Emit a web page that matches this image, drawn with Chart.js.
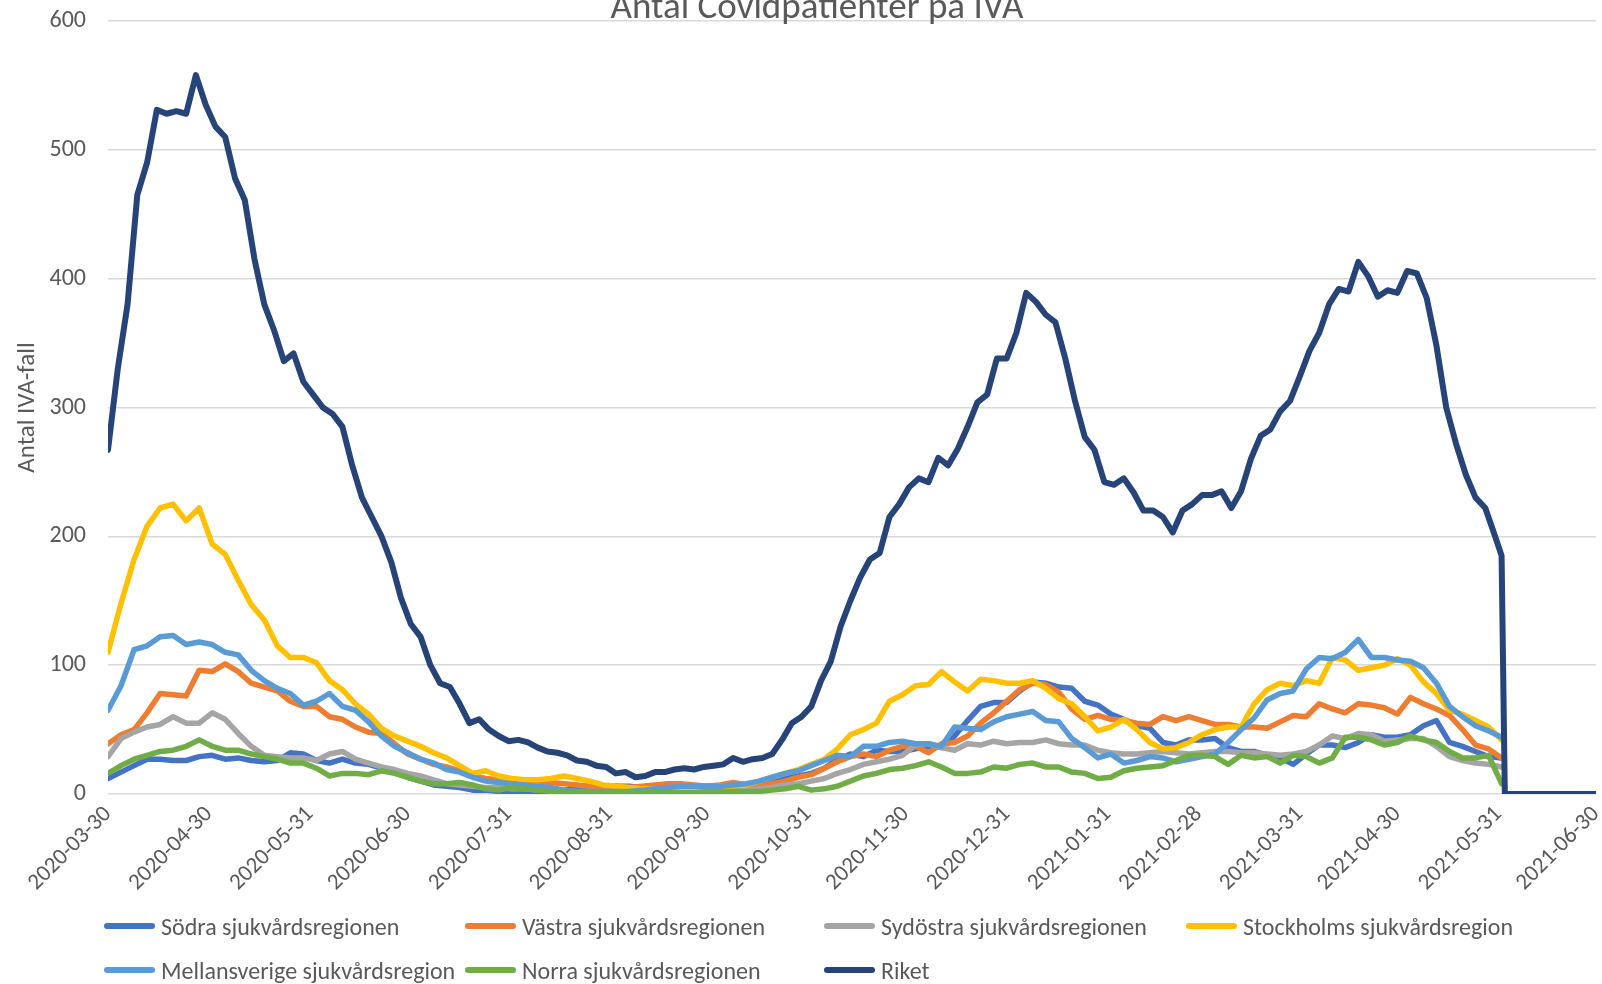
<!DOCTYPE html>
<html>
<head>
<meta charset="utf-8">
<script src="https://cdn.jsdelivr.net/npm/chart.js@4.4.1/dist/chart.umd.min.js"></script>
<style>
  html, body { margin: 0; padding: 0; background: #fff; overflow: hidden; }
  #wrap { position: relative; width: 1602px; height: 984px; font-family: Carlito, Lato, sans-serif; color: #595959; }
  #chart { position: absolute; left: 0; top: 0; }
  #title { position: absolute; top: -13px; left: 567px; width: 500px; text-align: center; font-size: 37px; line-height: 37px; white-space: nowrap; }
  .leg { position: absolute; height: 28px; display: flex; align-items: center; font-size: 24px; white-space: nowrap; }
  .leg span.swatch { display: inline-block; width: 51px; height: 6px; border-radius: 3px; margin-right: 6px; }
</style>
</head>
<body>
<div id="wrap">
  <canvas id="chart" width="1602" height="984"></canvas>
  <div id="title">Antal Covidpatienter på IVA</div>
  <div id="legend"></div>
</div>
<script>
// x positions are days since 2020-03-30
const tickDays = [0, 31, 62, 92, 123, 154, 184, 215, 245, 276, 307, 335, 366, 396, 427, 457];
const tickLabels = ['2020-03-30', '2020-04-30', '2020-05-31', '2020-06-30', '2020-07-31', '2020-08-31',
  '2020-09-30', '2020-10-31', '2020-11-30', '2020-12-31', '2021-01-31', '2021-02-28', '2021-03-31',
  '2021-04-30', '2021-05-31', '2021-06-30'];

const seriesNames = ['Södra sjukvårdsregionen', 'Västra sjukvårdsregionen', 'Sydöstra sjukvårdsregionen',
  'Stockholms sjukvårdsregion', 'Mellansverige sjukvårdsregion', 'Norra sjukvårdsregionen', 'Riket'];
const seriesColors = ['#4472C4', '#ED7D31', '#A5A5A5', '#FFC000', '#5B9BD5', '#70AD47', '#264478'];

// regional series, read every 4th day
const regionDays = [
  0, 4, 8, 12, 16, 20, 24, 28, 32, 36,
  40, 44, 48, 52, 56, 60, 64, 68, 72, 76,
  80, 84, 88, 92, 96, 100, 104, 108, 112, 116,
  120, 124, 128, 132, 136, 140, 144, 148, 152, 156,
  160, 164, 168, 172, 176, 180, 184, 188, 192, 196,
  200, 204, 208, 212, 216, 220, 224, 228, 232, 236,
  240, 244, 248, 252, 256, 260, 264, 268, 272, 276,
  280, 284, 288, 292, 296, 300, 304, 308, 312, 316,
  320, 324, 328, 332, 336, 340, 344, 348, 352, 356,
  360, 364, 368, 372, 376, 380, 384, 388, 392, 396,
  400, 404, 408, 412, 416, 420, 424, 428
];

const sodra = [
  12, 17, 22, 27, 27, 26, 26, 29, 30, 27,
  28, 26, 25, 26, 32, 31, 26, 24, 27, 24,
  23, 20, 17, 13, 10, 7, 6, 5, 3, 3,
  2, 2, 2, 2, 2, 3, 4, 5, 5, 6,
  6, 5, 5, 5, 5, 5, 6, 6, 6, 6,
  7, 9, 12, 14, 16, 20, 27, 31, 29, 34,
  33, 33, 35, 37, 36, 45, 57, 68, 71, 71,
  80, 87, 86, 83, 82, 72, 69, 62, 58, 53,
  51, 40, 38, 42, 42, 43, 36, 33, 33, 30,
  28, 23, 31, 38, 38, 36, 40, 46, 44, 44,
  46, 53, 57, 40, 37, 33, 29, 28
];

const vastra = [
  39, 46, 50, 63, 78, 77, 76, 96, 95, 101,
  95, 86, 83, 80, 72, 68, 68, 60, 58, 52,
  48, 47, 39, 31, 27, 23, 21, 18, 14, 12,
  11, 11, 10, 10, 9, 8, 7, 6, 6, 6,
  5, 6, 7, 8, 8, 7, 6, 7, 9, 7,
  6, 8, 10, 13, 15, 20, 25, 29, 31, 29,
  34, 37, 37, 32, 39, 40, 45, 55, 63, 72,
  81, 86, 85, 79, 66, 58, 61, 58, 57, 55,
  54, 60, 57, 60, 57, 54, 54, 52, 52, 51,
  56, 61, 60, 70, 66, 63, 70, 69, 67, 62,
  75, 70, 66, 61, 50, 38, 35, 28
];

const sydostra = [
  29, 43, 48, 52, 54, 60, 55, 55, 63, 58,
  47, 37, 30, 29, 28, 28, 26, 31, 33, 27,
  24, 21, 19, 16, 14, 11, 8, 7, 6, 5,
  5, 4, 4, 3, 3, 2, 2, 2, 2, 2,
  2, 2, 2, 2, 2, 2, 2, 2, 2, 3,
  4, 5, 7, 8, 10, 12, 16, 19, 23, 25,
  27, 30, 38, 39, 36, 34, 39, 38, 41, 39,
  40, 40, 42, 39, 38, 38, 34, 32, 31, 31,
  32, 33, 32, 31, 32, 33, 33, 32, 32, 31,
  30, 31, 33, 38, 45, 43, 47, 46, 41, 42,
  43, 43, 37, 29, 26, 24, 23, 21
];

const stockholm = [
  110, 148, 182, 208, 222, 225, 212, 222, 194, 186,
  166, 147, 135, 115, 106, 106, 102, 88, 81, 70,
  62, 51, 45, 41, 37, 32, 28, 22, 16, 18,
  14, 12, 11, 11, 12, 14, 12, 10, 7, 6,
  5, 4, 4, 4, 4, 5, 5, 6, 6, 7,
  10, 13, 16, 19, 23, 27, 35, 46, 50, 55,
  72, 77, 84, 85, 95, 87, 80, 89, 88, 86,
  86, 88, 82, 74, 70, 60, 49, 52, 58, 50,
  40, 35, 36, 40, 46, 50, 52, 52, 70, 81,
  86, 84, 88, 86, 106, 104, 96, 98, 100, 105,
  100, 87, 78, 65, 62, 57, 52, 42
];

const mellansverige = [
  65, 84, 112, 115, 122, 123, 116, 118, 116, 110,
  108, 96, 88, 82, 78, 69, 72, 78, 68, 65,
  56, 45, 37, 32, 27, 24, 19, 17, 13, 10,
  9, 8, 7, 6, 5, 3, 2, 2, 2, 2,
  2, 3, 4, 5, 6, 6, 6, 6, 7, 8,
  10, 13, 16, 18, 22, 26, 30, 29, 37, 37,
  40, 41, 39, 39, 37, 52, 51, 50, 56, 60,
  62, 64, 57, 56, 43, 36, 28, 31, 24, 26,
  29, 28, 25, 27, 29, 31, 40, 50, 59, 73,
  78, 80, 97, 106, 105, 110, 120, 106, 106, 104,
  103, 98, 86, 68, 60, 53, 49, 44
];

const norra = [
  16, 22, 27, 30, 33, 34, 37, 42, 37, 34,
  34, 31, 29, 27, 24, 24, 20, 14, 16, 16,
  15, 18, 16, 13, 10, 8, 8, 9, 7, 4,
  3, 5, 4, 3, 2, 2, 1, 1, 1, 1,
  1, 1, 1, 1, 1, 1, 2, 2, 2, 2,
  2, 3, 4, 6, 3, 4, 6, 10, 14, 16,
  19, 20, 22, 25, 21, 16, 16, 17, 21, 20,
  23, 24, 21, 21, 17, 16, 12, 13, 18, 20,
  21, 22, 26, 30, 30, 29, 23, 30, 28, 29,
  24, 30, 29, 24, 28, 44, 44, 42, 38, 40,
  45, 42, 40, 33, 28, 28, 30, 8
];

// national total, read every 3rd day
const riketDays = [
  0, 3, 6, 9, 12, 15, 18, 21, 24, 27,
  30, 33, 36, 39, 42, 45, 48, 51, 54, 57,
  60, 63, 66, 69, 72, 75, 78, 81, 84, 87,
  90, 93, 96, 99, 102, 105, 108, 111, 114, 117,
  120, 123, 126, 129, 132, 135, 138, 141, 144, 147,
  150, 153, 156, 159, 162, 165, 168, 171, 174, 177,
  180, 183, 186, 189, 192, 195, 198, 201, 204, 207,
  210, 213, 216, 219, 222, 225, 228, 231, 234, 237,
  240, 243, 246, 249, 252, 255, 258, 261, 264, 267,
  270, 273, 276, 279, 282, 285, 288, 291, 294, 297,
  300, 303, 306, 309, 312, 315, 318, 321, 324, 327,
  330, 333, 336, 339, 342, 345, 348, 351, 354, 357,
  360, 363, 366, 369, 372, 375, 378, 381, 384, 387,
  390, 393, 396, 399, 402, 405, 408, 411, 414, 417,
  420, 423, 426, 428, 429, 457
];

const riket = [
  267, 330, 380, 465, 490, 531, 528, 530, 528, 558,
  535, 518, 510, 478, 461, 415, 380, 360, 336, 342,
  320, 310, 300, 295, 285, 255, 230, 215, 200, 180,
  152, 132, 122, 100, 86, 83, 70, 55, 58, 50,
  45, 41, 42, 40, 36, 33, 32, 30, 26, 25,
  22, 21, 16, 17, 13, 14, 17, 17, 19, 20,
  19, 21, 22, 23, 28, 25, 27, 28, 31, 42,
  55, 60, 68, 88, 103, 130, 150, 168, 182, 187,
  215, 225, 238, 245, 242, 261, 255, 268, 285, 304,
  310, 338, 338, 358, 389, 382, 372, 366, 338, 305,
  277, 267, 242, 240, 245, 234, 220, 220, 215, 203,
  220, 225, 232, 232, 235, 222, 235, 260, 278, 283,
  297, 305, 324, 344, 358, 380, 392, 390, 413, 402,
  386, 391, 389, 406, 404, 385, 348, 300, 272, 248,
  230, 222, 200, 185, 0, 0
];

const seriesValues = [sodra, vastra, sydostra, stockholm, mellansverige, norra, riket];
const seriesDays = [regionDays, regionDays, regionDays, regionDays, regionDays, regionDays, riketDays];

const textColor = '#595959';
const fontFamily = 'Carlito, Lato, sans-serif';

function toPoints(days, values) {
  return values.map((v, i) => ({ x: days[i], y: v }));
}

const datasets = seriesNames.map((name, i) => ({
  label: name,
  data: toPoints(seriesDays[i], seriesValues[i]),
  borderColor: seriesColors[i],
  backgroundColor: seriesColors[i],
  borderWidth: i === 6 ? 6 : 5.5,
  pointRadius: 0,
  tension: 0,
  borderJoinStyle: 'round',
  borderCapStyle: 'round',
  fill: false,
  // later series sit on top, like in the original
  order: seriesNames.length - 1 - i
}));

const ctx = document.getElementById('chart').getContext('2d');
new Chart(ctx, {
  type: 'line',
  data: { datasets },
  options: {
    responsive: false,
    animation: false,
    layout: { padding: { top: 21, right: 6, bottom: 0, left: 0 } },
    plugins: {
      legend: { display: false },
      tooltip: { enabled: false },
      title: { display: false }
    },
    scales: {
      x: {
        type: 'linear',
        min: 0,
        max: 457,
        grid: { display: false, drawTicks: false },
        border: { display: false },
        afterBuildTicks: scale => {
          scale.ticks = tickDays.map(d => ({ value: d }));
        },
        afterFit: scale => {
          scale.height = 190;
          scale.paddingLeft = 0;
          scale.paddingRight = 0;
        },
        ticks: {
          autoSkip: false,
          minRotation: 45,
          maxRotation: 45,
          padding: 7,
          color: textColor,
          font: { family: fontFamily, size: 23 },
          callback: (value, index) => tickLabels[index]
        }
      },
      y: {
        min: 0,
        max: 600,
        grid: { color: '#D9D9D9', lineWidth: 1.5, drawTicks: false },
        border: { display: false },
        afterFit: scale => {
          scale.width = 108;
          scale.paddingTop = 0;
          scale.paddingBottom = 0;
        },
        ticks: {
          stepSize: 100,
          padding: 22,
          color: textColor,
          font: { family: fontFamily, size: 24 }
        },
        title: {
          display: true,
          text: 'Antal IVA-fall',
          color: textColor,
          font: { family: fontFamily, size: 25 },
          padding: { top: 13, bottom: 0 }
        }
      }
    }
  }
});

// legend laid out in columns, as in the original
const legendCols = [104, 465, 824, 1186];
const legendRows = [912, 956];
const legendEl = document.getElementById('legend');
seriesNames.forEach((name, i) => {
  const item = document.createElement('div');
  item.className = 'leg';
  item.style.left = legendCols[i % 4] + 'px';
  item.style.top = legendRows[Math.floor(i / 4)] + 'px';
  const sw = document.createElement('span');
  sw.className = 'swatch';
  sw.style.background = seriesColors[i];
  item.appendChild(sw);
  item.appendChild(document.createTextNode(name));
  legendEl.appendChild(item);
});
</script>
</body>
</html>
